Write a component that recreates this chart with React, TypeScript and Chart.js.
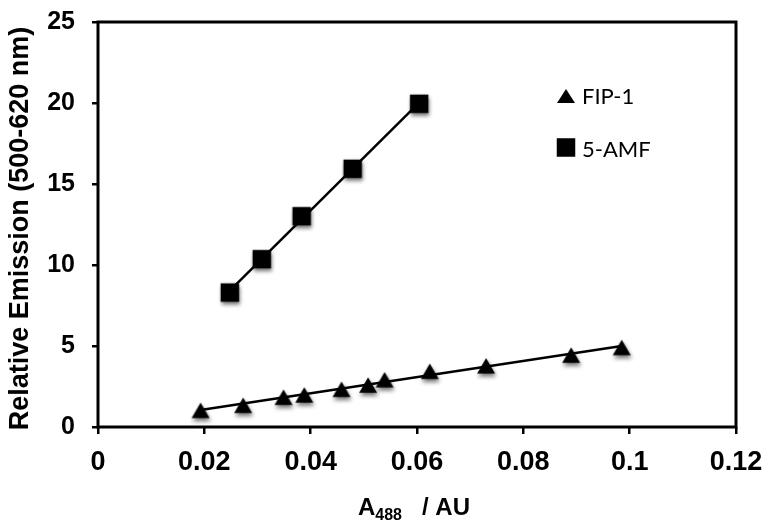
import React, { useEffect, useRef } from 'react';
import { Chart, registerables } from 'chart.js';

Chart.register(...registerables);

// FIP-1 (triangles)
const fipX = [0.0193, 0.0273, 0.0349, 0.0388, 0.0458, 0.0508, 0.0539, 0.0624, 0.073, 0.089, 0.0985];
const fipY = [1.03, 1.34, 1.84, 1.98, 2.33, 2.59, 2.92, 3.44, 3.78, 4.44, 4.91];
// 5-AMF (squares)
const amfX = [0.0248, 0.0308, 0.0383, 0.0479, 0.0604];
const amfY = [8.3, 10.36, 13.01, 15.94, 19.95];

const seriesNames = ['FIP-1', '5-AMF'];
const xTicks = [0, 0.02, 0.04, 0.06, 0.08, 0.1, 0.12];
const yTicks = [0, 5, 10, 15, 20, 25];
const yTitle = 'Relative Emission (500-620 nm)';
const xTitleMain = 'A';
const xTitleSub = '488';
const xTitleRest = '/ AU';

function linearFit(xs: number[], ys: number[]) {
  const n = xs.length;
  const mx = xs.reduce((a, b) => a + b, 0) / n;
  const my = ys.reduce((a, b) => a + b, 0) / n;
  let sxy = 0, sxx = 0;
  for (let i = 0; i < n; i++) {
    sxy += (xs[i] - mx) * (ys[i] - my);
    sxx += (xs[i] - mx) * (xs[i] - mx);
  }
  const b = sxy / sxx;
  const a = my - b * mx;
  const x0 = Math.min(...xs);
  const x1 = Math.max(...xs);
  return [{ x: x0, y: a + b * x0 }, { x: x1, y: a + b * x1 }];
}

function makeMarker(kind: 'tri' | 'sq', shadow: boolean) {
  const c = document.createElement('canvas');
  c.width = 34;
  c.height = 34;
  const g = c.getContext('2d')!;
  if (shadow) {
    g.shadowColor = 'rgba(0,0,0,0.55)';
    g.shadowBlur = 4;
    g.shadowOffsetX = 1;
    g.shadowOffsetY = 3;
  }
  g.fillStyle = '#000';
  if (kind === 'sq') {
    g.fillRect(17 - 9.25, 17 - 9.25, 18.5, 18.5);
  } else {
    const w = 18, h = 15.5;
    g.beginPath();
    g.moveTo(17, 17 - h / 2);
    g.lineTo(17 + w / 2, 17 + h / 2);
    g.lineTo(17 - w / 2, 17 + h / 2);
    g.closePath();
    g.fill();
  }
  return c;
}

export default function App() {
  const ref = useRef<HTMLCanvasElement | null>(null);

  useEffect(() => {
    if (!ref.current) return;
    const triImg = makeMarker('tri', true);
    const sqImg = makeMarker('sq', true);

    const decor = {
      id: 'decor',
      afterDraw(chart: any) {
        const { ctx, chartArea } = chart;
        const { left, right, top, bottom } = chartArea;
        ctx.save();
        // box
        ctx.strokeStyle = '#000';
        ctx.lineWidth = 3;
        ctx.strokeRect(left, top, right - left, bottom - top);

        // y title
        ctx.fillStyle = '#000';
        ctx.font = 'bold 27px "Liberation Sans", Arial, sans-serif';
        ctx.textAlign = 'center';
        ctx.textBaseline = 'middle';
        ctx.save();
        ctx.translate(21, (top + bottom) / 2 + 4);
        ctx.rotate(-Math.PI / 2);
        ctx.fillText(yTitle, 0, 0);
        ctx.restore();

        // x title with subscript
        ctx.textAlign = 'left';
        ctx.textBaseline = 'alphabetic';
        const bigFont = 'bold 24px "Liberation Sans", Arial, sans-serif';
        const subFont = 'bold 16px "Liberation Sans", Arial, sans-serif';
        ctx.font = bigFont;
        const wA = ctx.measureText(xTitleMain).width;
        const wRest = ctx.measureText(xTitleRest).width;
        ctx.font = subFont;
        const wSub = ctx.measureText(xTitleSub).width;
        const gap = 20;
        const total = wA + wSub + gap + wRest;
        let x = (left + right) / 2 - 3 - total / 2;
        const base = 515;
        ctx.font = bigFont;
        ctx.fillText(xTitleMain, x, base);
        x += wA;
        ctx.font = subFont;
        ctx.fillText(xTitleSub, x, base + 5);
        x += wSub + gap;
        ctx.font = bigFont;
        ctx.fillText(xTitleRest, x, base);

        // legend
        ctx.fillStyle = '#000';
        const lx = 566;
        const tw = 18, th = 14;
        ctx.beginPath();
        ctx.moveTo(lx, 96 - th / 2);
        ctx.lineTo(lx + tw / 2, 96 + th / 2);
        ctx.lineTo(lx - tw / 2, 96 + th / 2);
        ctx.closePath();
        ctx.fill();
        ctx.fillRect(lx - 9.25, 147.5 - 9.25, 18.5, 18.5);
        ctx.font = '22px Lato, "Open Sans", sans-serif';
        ctx.textAlign = 'left';
        ctx.textBaseline = 'alphabetic';
        ctx.fillText(seriesNames[0], 582, 103.5);
        ctx.fillText(seriesNames[1], 582, 156.5);
        ctx.restore();
      },
    };

    const fipPts = fipX.map((x, i) => ({ x, y: fipY[i] }));
    const amfPts = amfX.map((x, i) => ({ x, y: amfY[i] }));

    const family = '"Liberation Sans", Arial, sans-serif';

    const chart = new Chart(ref.current, {
      type: 'scatter',
      data: {
        datasets: [
          {
            label: seriesNames[0],
            data: fipPts,
            pointStyle: triImg as any,
            pointRadius: 10,
            order: 0,
          },
          {
            label: seriesNames[1],
            data: amfPts,
            pointStyle: sqImg as any,
            pointRadius: 10,
            order: 0,
          },
          {
            label: 'fit1',
            data: linearFit(fipX, fipY),
            showLine: true,
            borderColor: '#000',
            borderWidth: 2.5,
            pointRadius: 0,
            order: 1,
          },
          {
            label: 'fit2',
            data: linearFit(amfX, amfY),
            showLine: true,
            borderColor: '#000',
            borderWidth: 2.5,
            pointRadius: 0,
            order: 1,
          },
        ],
      },
      options: {
        animation: false,
        responsive: true,
        maintainAspectRatio: false,
        layout: { padding: { left: 0, top: 22, right: 34, bottom: 0 } },
        plugins: {
          legend: { display: false },
          tooltip: { enabled: false },
        },
        scales: {
          x: {
            type: 'linear',
            min: 0,
            max: 0.12,
            afterBuildTicks: (s: any) => { s.ticks = xTicks.map((v) => ({ value: v })); },
            afterFit: (s: any) => { s.height = 96; s.paddingLeft = 0; s.paddingRight = 0; },
            border: { display: false },
            grid: { drawOnChartArea: false, color: '#000', lineWidth: 2.5, tickLength: 7 },
            ticks: {
              color: '#000',
              font: { family, size: 27, weight: 'bold' },
              padding: 12,
              maxRotation: 0,
              autoSkip: false,
              callback: (v: any) => String(parseFloat(Number(v).toFixed(3))),
            },
          },
          y: {
            type: 'linear',
            min: 0,
            max: 25,
            afterBuildTicks: (s: any) => { s.ticks = yTicks.map((v) => ({ value: v })); },
            afterFit: (s: any) => { s.width = 98; s.paddingTop = 0; s.paddingBottom = 0; },
            border: { display: false },
            grid: { drawOnChartArea: false, color: '#000', lineWidth: 2.5, tickLength: 6 },
            ticks: {
              color: '#000',
              font: { family, size: 25, weight: 'bold' },
              padding: 17,
              autoSkip: false,
              callback: (v: any) => String(v),
            },
          },
        },
      },
      plugins: [decor],
    });

    return () => chart.destroy();
  }, []);

  return (
    <div style={{ position: 'fixed', left: 0, top: 0, width: 770, height: 523, background: '#fff' }}>
      <canvas ref={ref} />
    </div>
  );
}
